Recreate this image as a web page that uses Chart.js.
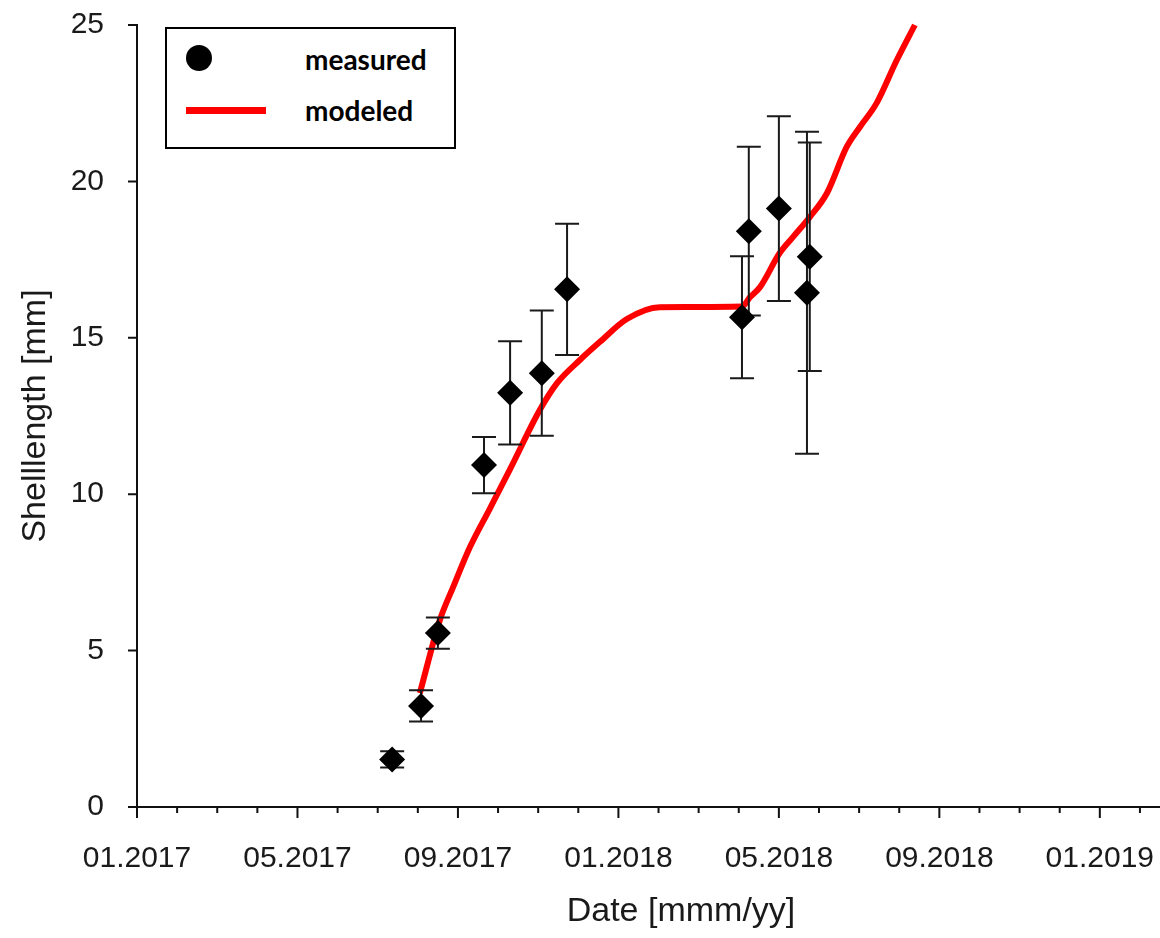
<!DOCTYPE html>
<html lang="en">
<head>
    <meta charset="UTF-8">
    <title>Shelllength over time</title>
    <script src="https://cdn.jsdelivr.net/npm/chart.js"></script>
    <style>
        html, body { margin: 0; padding: 0; background: #fff; overflow: hidden; }
        #wrap { position: relative; width: 1160px; height: 938px; }
        #legend {
            position: absolute; left: 165px; top: 27px; width: 291px; height: 122px;
            box-sizing: border-box; border: 2px solid #000; background: #fff;
            font-family: Lato, "Liberation Sans", sans-serif; font-weight: bold; font-size: 28px; color: #000;
        }
        #legend .dot { position: absolute; left: 19px; top: 16px; width: 26px; height: 26px; border-radius: 50%; background: #000; }
        #legend .bar { position: absolute; left: 19px; top: 78px; width: 80px; height: 7px; background: #ff0000; }
        #legend .txt { position: absolute; left: 138px; line-height: 30px; }
    </style>
</head>
<body>

<div id="wrap">
    <canvas id="shellChart"></canvas>
    <div id="legend">
        <span class="dot"></span><span class="txt" style="top:15px">measured</span>
        <span class="bar"></span><span class="txt" style="top:66px">modeled</span>
    </div>
</div>

<script>
    // x values are months counted from 01.2017 (0 = Jan 2017)
    const measuredMonths = [6.36, 7.08, 7.50, 8.65, 9.30, 10.09, 10.72, 15.08, 15.25, 16.00, 16.77, 16.70];
    const measuredLength = [1.52, 3.23, 5.56, 10.93, 13.24, 13.87, 16.55, 15.66, 18.41, 19.13, 17.59, 16.44];
    const measuredErr    = [0.26, 0.50, 0.50, 0.90, 1.65, 2.00, 2.10, 1.95, 2.70, 2.95, 3.65, 5.15];

    const modeledMonths = [7.05, 7.55, 7.88, 8.30, 8.80, 9.30, 10.04, 10.47, 11.04, 11.54, 12.21, 13.03,
                           15.08, 15.28, 15.53, 16.02, 16.35, 16.77, 17.20, 17.69, 18.02, 18.44, 18.94, 19.39];
    const modeledLength = [3.64, 5.98, 7.03, 8.31, 9.55, 10.80, 12.69, 13.55, 14.29, 14.87, 15.60, 15.98,
                           16.00, 16.30, 16.62, 17.71, 18.22, 18.86, 19.63, 21.10, 21.74, 22.51, 23.88, 25.00];

    const yTicks = [0, 5, 10, 15, 20, 25];
    const startYear = 2017;

    const textColor = '#1a1a1a';

    function monthLabel(m) {
        const mm = String(m % 12 + 1).padStart(2, '0');
        return mm + '.' + (startYear + Math.floor(m / 12));
    }

    // error bars, drawn after the red line but under the diamonds
    const errorBars = {
        id: 'errorBars',
        beforeDatasetDraw(chart, args) {
            if (args.index !== 0) return;
            const {ctx, scales: {x, y}} = chart;
            ctx.save();
            ctx.strokeStyle = '#1a1a1a';
            ctx.lineWidth = 2;
            measuredMonths.forEach((m, i) => {
                const px = x.getPixelForValue(m);
                const top = y.getPixelForValue(measuredLength[i] + measuredErr[i]);
                const bot = y.getPixelForValue(measuredLength[i] - measuredErr[i]);
                ctx.beginPath();
                ctx.moveTo(px, top); ctx.lineTo(px, bot);
                ctx.moveTo(px - 12, top); ctx.lineTo(px + 12, top);
                ctx.moveTo(px - 12, bot); ctx.lineTo(px + 12, bot);
                ctx.stroke();
            });
            ctx.restore();
        }
    };

    // outward tick marks: long ones every 4 months, short ones every month
    const tickMarks = {
        id: 'tickMarks',
        afterDraw(chart) {
            const {ctx, scales: {x, y}, chartArea} = chart;
            ctx.save();
            ctx.strokeStyle = '#111';
            ctx.lineWidth = 2;
            ctx.beginPath();
            for (let m = 0; m <= Math.floor(x.max); m++) {
                const px = x.getPixelForValue(m);
                ctx.moveTo(px, chartArea.bottom);
                ctx.lineTo(px, chartArea.bottom + (m % 4 === 0 ? 11 : 6));
            }
            yTicks.forEach(v => {
                const py = y.getPixelForValue(v);
                ctx.moveTo(chartArea.left, py);
                ctx.lineTo(chartArea.left - 9, py);
            });
            ctx.stroke();

            ctx.fillStyle = textColor;
            ctx.font = '34px "Liberation Sans", Arial, sans-serif';
            ctx.textAlign = 'center';
            ctx.textBaseline = 'middle';
            ctx.fillText('Date [mmm/yy]', 681, 912);
            ctx.restore();
        }
    };

    const ctx = document.getElementById('shellChart').getContext('2d');
    new Chart(ctx, {
        type: 'scatter',
        data: {
            datasets: [
                {
                    label: 'measured',
                    data: measuredMonths.map((m, i) => ({x: m, y: measuredLength[i]})),
                    pointStyle: 'rectRot',
                    pointRadius: 13,
                    pointHoverRadius: 13,
                    backgroundColor: '#000',
                    borderColor: '#000',
                    borderWidth: 0
                },
                {
                    label: 'modeled',
                    type: 'line',
                    data: modeledMonths.map((m, i) => ({x: m, y: modeledLength[i]})),
                    borderColor: '#ff0000',
                    borderWidth: 6,
                    pointRadius: 0,
                    fill: false,
                    cubicInterpolationMode: 'monotone',
                    clip: false
                }
            ]
        },
        options: {
            responsive: true,
            maintainAspectRatio: false,
            animation: false,
            layout: {autoPadding: false, padding: {top: 25, right: 0, bottom: 0, left: 0}},
            plugins: {legend: {display: false}, tooltip: {enabled: false}},
            scales: {
                x: {
                    type: 'linear',
                    min: 0,
                    max: 25.5,
                    afterFit: s => { s.height = 131; s.paddingLeft = 0; s.paddingRight = 0; },
                    grid: {display: false},
                    border: {display: true, color: '#111', width: 2},
                    ticks: {
                        stepSize: 1,
                        includeBounds: false,
                        autoSkip: false,
                        maxRotation: 0,
                        padding: 26,
                        color: textColor,
                        font: {family: '"Liberation Sans", Arial, sans-serif', size: 30},
                        callback: v => (v % 4 === 0 ? monthLabel(v) : '')
                    }
                },
                y: {
                    min: 0,
                    max: 25,
                    afterFit: s => { s.width = 137; s.paddingTop = 0; s.paddingBottom = 0; },
                    grid: {display: false},
                    border: {display: true, color: '#111', width: 2},
                    ticks: {
                        stepSize: 5,
                        padding: 25,
                        color: textColor,
                        font: {family: '"Liberation Sans", Arial, sans-serif', size: 30}
                    },
                    title: {
                        display: true,
                        text: 'Shelllength [mm]',
                        color: textColor,
                        font: {family: '"Liberation Sans", Arial, sans-serif', size: 34},
                        padding: {top: 15, bottom: 0}
                    }
                }
            }
        },
        plugins: [errorBars, tickMarks]
    });
</script>

</body>
</html>
